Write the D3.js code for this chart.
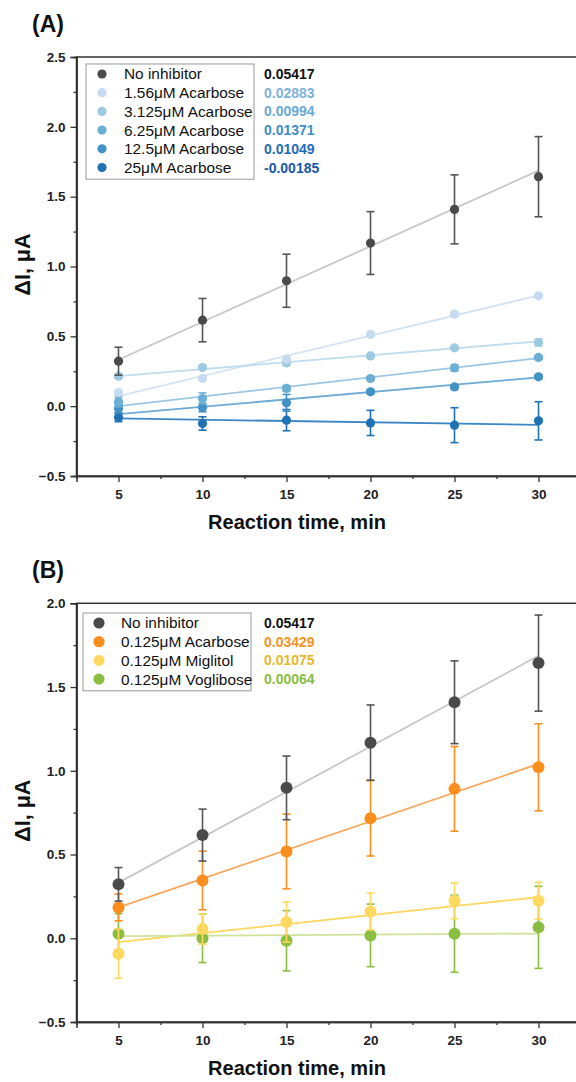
<!DOCTYPE html>
<html>
<head>
<meta charset="utf-8">
<script src="https://cdn.jsdelivr.net/npm/d3@7"></script>
<style>
  html, body { margin: 0; padding: 0; background: #fff; }
  svg { display: block; font-family: "Liberation Sans", Arial, Helvetica, sans-serif; }
</style>
</head>
<body>
<svg id="chart" width="576" height="1082"></svg>
<script>
// ---------- DATA ----------
const times = [5, 10, 15, 20, 25, 30];
const xTicks = [5, 10, 15, 20, 25, 30];
const yTicksA = [-0.5, 0.0, 0.5, 1.0, 1.5, 2.0, 2.5];
const yTicksB = [-0.5, 0.0, 0.5, 1.0, 1.5, 2.0];

// Panel A
const namesA = ["No inhibitor", "1.56μM Acarbose", "3.125μM Acarbose", "6.25μM Acarbose", "12.5μM Acarbose", "25μM Acarbose"];
const slopesA = ["0.05417", "0.02883", "0.00994", "0.01371", "0.01049", "-0.00185"];
const noInhibitor = [0.322, 0.616, 0.898, 1.168, 1.409, 1.643];
const noInhibitorErr = [0.10, 0.155, 0.19, 0.225, 0.247, 0.287];
const acarbose156 = [0.098, 0.198, 0.337, 0.514, 0.659, 0.790];
const acarbose156Err = [0.01, 0.01, 0.012, 0.01, 0.01, 0.012];
const acarbose3125 = [0.215, 0.277, 0.310, 0.360, 0.418, 0.456];
const acarbose3125Err = [0.015, 0.012, 0.02, 0.012, 0.012, 0.025];
const acarbose625 = [0.031, 0.055, 0.127, 0.198, 0.274, 0.349];
const acarbose625Err = [0.035, 0.04, 0.02, 0.012, 0.022, 0.012];
const acarbose125 = [-0.017, -0.010, 0.024, 0.103, 0.138, 0.210];
const acarbose125Err = [0.03, 0.03, 0.06, 0.012, 0.012, 0.012];
const acarbose25 = [-0.081, -0.124, -0.100, -0.120, -0.136, -0.105];
const acarbose25Err = [0.03, 0.048, 0.076, 0.09, 0.125, 0.137];

// Panel B
const namesB = ["No inhibitor", "0.125μM Acarbose", "0.125μM Miglitol", "0.125μM Voglibose"];
const slopesB = ["0.05417", "0.03429", "0.01075", "0.00064"];
const acarboseB = [0.184, 0.345, 0.518, 0.717, 0.892, 1.021];
const acarboseBErr = [0.08, 0.175, 0.223, 0.226, 0.253, 0.26];
const miglitol = [-0.092, 0.055, 0.097, 0.160, 0.224, 0.224];
const miglitolErr = [0.147, 0.09, 0.12, 0.11, 0.107, 0.11];
const voglibose = [0.027, 0.000, -0.015, 0.017, 0.027, 0.065];
const vogliboseErr = [0.12, 0.145, 0.18, 0.187, 0.23, 0.245];

// ---------- STYLE ----------
const stylesA = [
  {pt: "#4a4a4a", line: "#c8c8c8", err: "#555555", txt: "#111111"},
  {pt: "#c6dbef", line: "#d3e3f3", err: "#c6dbef", txt: "#7fb1dd"},
  {pt: "#9ecae1", line: "#c0dcef", err: "#9ecae1", txt: "#68a9d8"},
  {pt: "#6baed6", line: "#9cc6e4", err: "#6baed6", txt: "#3f8ccb"},
  {pt: "#4292c6", line: "#6eaad6", err: "#4292c6", txt: "#1f6cb6"},
  {pt: "#2171b5", line: "#3d86c6", err: "#2171b5", txt: "#1a56a8"}
];
const stylesB = [
  {pt: "#4a4a4a", line: "#c8c8c8", err: "#555555", txt: "#111111"},
  {pt: "#fd8d1c", line: "#f9a55a", err: "#fd8d1c", txt: "#f7941d"},
  {pt: "#fed95f", line: "#fcd75c", err: "#fed95f", txt: "#e8b72a"},
  {pt: "#8bbd42", line: "#cfe39a", err: "#8bbd42", txt: "#8bbd42"}
];

const svg = d3.select("#chart");
const FONT = "'Liberation Sans', Arial, Helvetica, sans-serif";

function drawPanel(cfg) {
  const g = svg.append("g");
  const x = d3.scaleLinear().domain([2.5, 32.5]).range([76.5, 580.5]);
  const y = d3.scaleLinear().domain(cfg.yDomain).range([cfg.bottom, cfg.top]);

  // frame
  g.append("rect").attr("x", x(2.5)).attr("y", cfg.top)
    .attr("width", x(32.5) - x(2.5)).attr("height", cfg.bottom - cfg.top)
    .attr("fill", "none").attr("stroke", "#333").attr("stroke-width", 1.5);

  // axes
  const xAxis = d3.axisBottom(x).tickValues(xTicks).tickSize(6).tickPadding(7).tickFormat(d3.format("d"));
  const xMinor = d3.axisBottom(x).tickValues([7.5, 12.5, 17.5, 22.5, 27.5, 32.5]).tickSize(3).tickFormat("");
  const yAxis = d3.axisLeft(y).tickValues(cfg.yTicks).tickSize(6).tickPadding(5).tickFormat(d3.format(".1f"));
  const minorY = [];
  for (let i = 0; i < cfg.yTicks.length - 1; i++) minorY.push((cfg.yTicks[i] + cfg.yTicks[i + 1]) / 2);
  const yMinor = d3.axisLeft(y).tickValues(minorY).tickSize(3).tickFormat("");

  [[xAxis, "b"], [xMinor, "b"], [yAxis, "l"], [yMinor, "l"]].forEach(([ax, side]) => {
    const a = g.append("g")
      .attr("transform", side === "b" ? `translate(0,${cfg.bottom})` : `translate(${x(2.5)},0)`)
      .call(ax);
    a.select(".domain").attr("stroke", "#333").attr("stroke-width", 1.5);
    a.selectAll(".tick line").attr("stroke", "#333").attr("stroke-width", 1.3);
    a.selectAll(".tick text").attr("font-family", FONT).attr("font-size", 13.5)
      .attr("font-weight", "bold").attr("fill", "#222");
  });

  // axis titles
  g.append("text").attr("x", 297).attr("y", cfg.bottom + 53)
    .attr("text-anchor", "middle").attr("font-family", FONT).attr("font-size", 20)
    .attr("font-weight", "bold").attr("fill", "#111").text("Reaction time, min");
  g.append("text")
    .attr("transform", `translate(30,${(cfg.top + cfg.bottom) / 2 - 2}) rotate(-90)`)
    .attr("text-anchor", "middle").attr("font-family", FONT).attr("font-size", 21.5)
    .attr("font-weight", "bold").attr("fill", "#111").text("ΔI, μA");
  g.append("text").attr("x", 32).attr("y", cfg.top - 25)
    .attr("font-family", FONT).attr("font-size", 23).attr("font-weight", "bold")
    .attr("fill", "#111").text(cfg.label);

  const plot = g.append("g");
  const line = d3.line().x(d => x(d[0])).y(d => y(d[1]));

  // fit lines (slope from legend, intercept through data centroid)
  cfg.series.forEach((s, i) => {
    const k = +cfg.slopes[i];
    const mx = d3.mean(times), my = d3.mean(s.values);
    const b = my - k * mx;
    plot.append("path")
      .datum([[times[0], b + k * times[0]], [times[times.length - 1], b + k * times[times.length - 1]]])
      .attr("d", line).attr("fill", "none")
      .attr("stroke", cfg.styles[i].line).attr("stroke-width", 1.8);
  });

  // error bars and points, drawn from last series to first
  const order = cfg.series.map((s, i) => i).reverse();
  order.forEach(i => {
    const s = cfg.series[i], st = cfg.styles[i];
    const eg = plot.append("g").attr("stroke", st.err).attr("stroke-width", 1.6);
    times.forEach((t, j) => {
      const v = s.values[j], e = s.err[j];
      eg.append("line").attr("x1", x(t)).attr("x2", x(t)).attr("y1", y(v - e)).attr("y2", y(v + e));
      [v - e, v + e].forEach(vv => {
        eg.append("line").attr("x1", x(t) - 4).attr("x2", x(t) + 4).attr("y1", y(vv)).attr("y2", y(vv));
      });
    });
    plot.append("g").selectAll("circle").data(times).join("circle")
      .attr("cx", t => x(t)).attr("cy", (t, j) => y(s.values[j]))
      .attr("r", cfg.r).attr("fill", st.pt);
  });

  // legend
  const lg = g.append("g");
  const rowH = 18.7;
  lg.append("rect").attr("x", cfg.legX).attr("y", cfg.legY)
    .attr("width", 168).attr("height", rowH * cfg.names.length + 3)
    .attr("fill", "#fff").attr("stroke", "#999").attr("stroke-width", 1);
  cfg.names.forEach((n, i) => {
    const cy = cfg.legY + 10 + i * rowH;
    lg.append("circle").attr("cx", cfg.legX + 16).attr("cy", cy).attr("r", cfg.legR).attr("fill", cfg.styles[i].pt);
    lg.append("text").attr("x", cfg.legX + 38).attr("y", cy + 5.4)
      .attr("font-family", FONT).attr("font-size", 15.4).attr("fill", "#111").text(n);
    lg.append("text").attr("x", 264).attr("y", cy + 5)
      .attr("font-family", FONT).attr("font-size", 14).attr("font-weight", "bold")
      .attr("fill", cfg.styles[i].txt).text(cfg.slopes[i]);
  });
}

drawPanel({
  label: "(A)", top: 57, bottom: 476, yDomain: [-0.5, 2.5], yTicks: yTicksA,
  r: 4.6, legR: 4.6, legX: 86, legY: 64, names: namesA, slopes: slopesA, styles: stylesA,
  series: [
    {values: noInhibitor, err: noInhibitorErr},
    {values: acarbose156, err: acarbose156Err},
    {values: acarbose3125, err: acarbose3125Err},
    {values: acarbose625, err: acarbose625Err},
    {values: acarbose125, err: acarbose125Err},
    {values: acarbose25, err: acarbose25Err}
  ]
});

drawPanel({
  label: "(B)", top: 603.3, bottom: 1022, yDomain: [-0.5, 2.0], yTicks: yTicksB,
  r: 6, legR: 5.6, legX: 83, legY: 613, names: namesB, slopes: slopesB, styles: stylesB,
  series: [
    {values: noInhibitor, err: noInhibitorErr},
    {values: acarboseB, err: acarboseBErr},
    {values: miglitol, err: miglitolErr},
    {values: voglibose, err: vogliboseErr}
  ]
});
</script>
</body>
</html>
